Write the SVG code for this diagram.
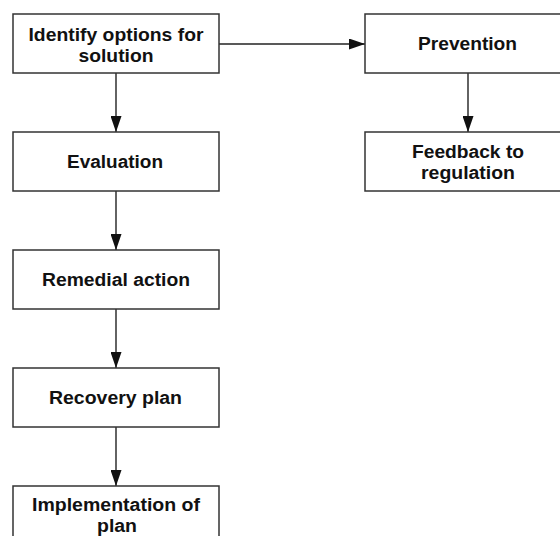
<svg xmlns="http://www.w3.org/2000/svg" width="560" height="536" viewBox="0 0 560 536">
<defs>
<marker id="arr" markerWidth="16" markerHeight="11" refX="16" refY="5.5" orient="auto" markerUnits="userSpaceOnUse">
<path d="M0,0 L16,5.5 L0,11 Z" fill="#111"/>
</marker>
<style>
.box{fill:#fff;stroke:#333;stroke-width:1.5}
.lbl{font-family:"Liberation Sans",Arial,sans-serif;font-weight:bold;font-size:18px;fill:#111;text-anchor:middle}
.con{stroke:#222;stroke-width:1.4;fill:none}
</style>
</defs>
<rect width="560" height="536" fill="#fff"/>
<g id="connectors">
<line class="con" x1="219" y1="44" x2="365" y2="44" marker-end="url(#arr)"/>
<line class="con" x1="116" y1="73" x2="116" y2="132" marker-end="url(#arr)"/>
<line class="con" x1="116" y1="191" x2="116" y2="250" marker-end="url(#arr)"/>
<line class="con" x1="116" y1="309" x2="116" y2="368" marker-end="url(#arr)"/>
<line class="con" x1="116" y1="427" x2="116" y2="486" marker-end="url(#arr)"/>
<line class="con" x1="468" y1="73" x2="468" y2="132" marker-end="url(#arr)"/>
</g>
<g id="identify">
<rect class="box" x="13" y="14" width="206" height="59"/>
<text class="lbl" x="116" y="41" textLength="175" lengthAdjust="spacingAndGlyphs">Identify options for</text>
<text class="lbl" x="116" y="62" textLength="75" lengthAdjust="spacingAndGlyphs">solution</text>
</g>
<g id="evaluation">
<rect class="box" x="13" y="132" width="206" height="59"/>
<text class="lbl" x="115" y="168" textLength="96" lengthAdjust="spacingAndGlyphs">Evaluation</text>
</g>
<g id="remedial">
<rect class="box" x="13" y="250" width="206" height="59"/>
<text class="lbl" x="116" y="286" textLength="148" lengthAdjust="spacingAndGlyphs">Remedial action</text>
</g>
<g id="recovery">
<rect class="box" x="13" y="368" width="206" height="59"/>
<text class="lbl" x="115.5" y="404" textLength="133" lengthAdjust="spacingAndGlyphs">Recovery plan</text>
</g>
<g id="implementation">
<rect class="box" x="13" y="486" width="206" height="59"/>
<text class="lbl" x="116" y="511" textLength="168" lengthAdjust="spacingAndGlyphs">Implementation of</text>
<text class="lbl" x="117" y="532" textLength="40" lengthAdjust="spacingAndGlyphs">plan</text>
</g>
<g id="prevention">
<rect class="box" x="365" y="14" width="206" height="59"/>
<text class="lbl" x="467.5" y="50" textLength="99" lengthAdjust="spacingAndGlyphs">Prevention</text>
</g>
<g id="feedback">
<rect class="box" x="365" y="132" width="206" height="59"/>
<text class="lbl" x="468" y="158" textLength="112" lengthAdjust="spacingAndGlyphs">Feedback to</text>
<text class="lbl" x="468" y="179" textLength="94" lengthAdjust="spacingAndGlyphs">regulation</text>
</g>
</svg>
